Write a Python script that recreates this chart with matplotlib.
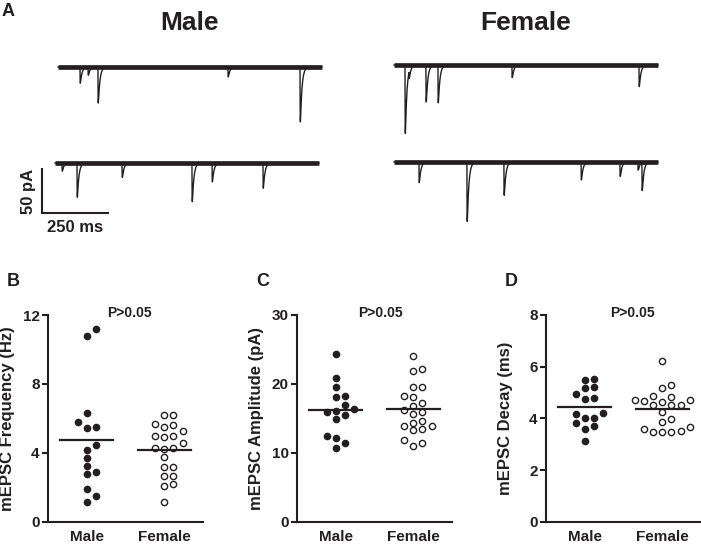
import numpy as np
import matplotlib
matplotlib.use("Agg")
import matplotlib.pyplot as plt

plt.rcParams['font.family'] = ['Liberation Sans', 'DejaVu Sans']
plt.rcParams['font.weight'] = 'bold'
plt.rcParams['axes.labelweight'] = 'bold'
INK = '#231f20'

# ---- panel A: example mEPSC traces, events as (time ms, amplitude pA) ----
trace_ms = 985
male_events_1 = [(82, 18), (112, 9), (149, 40), (634, 11), (903, 61)]
male_events_2 = [(26, 9), (82, 38), (250, 16), (511, 43), (586, 21), (776, 28)]
female_events_1 = [(41, 76), (56, 8), (119, 41), (164, 42), (440, 14), (914, 24)]
female_events_2 = [(93, 23), (272, 66), (410, 37), (698, 20), (843, 16),
                   (910, 9), (925, 31)]

# ---- panels B-D: one value per cell ----
groups = ['Male', 'Female']
freq_male = [11.19, 10.80, 6.29, 5.52, 5.42, 5.81, 4.47, 4.14, 3.72, 3.25,
             2.75, 2.89, 1.92, 1.51, 1.16]
freq_female = [6.19, 6.19, 5.67, 5.48, 5.60, 5.27, 4.99, 4.92, 4.99, 4.55,
               4.28, 4.20, 4.28, 3.74, 3.18, 3.18, 2.67, 2.67, 2.19, 2.07, 1.16]
amp_male = [24.34, 20.81, 19.51, 18.14, 18.24, 16.94, 16.31, 15.88, 15.49,
            16.11, 14.95, 12.44, 12.19, 11.47, 10.65]
amp_female = [24.05, 22.2, 21.83, 19.6, 19.6, 18.05, 18.24, 17.27, 16.84,
              16.21, 15.58, 15.88, 14.62, 13.94, 13.41, 13.31, 13.89, 14.37,
              11.86, 10.99, 11.47]
decay_male = [5.48, 5.51, 5.16, 5.21, 4.94, 4.79, 4.75, 4.16, 4.19, 4.00,
              4.00, 3.81, 3.70, 3.59, 3.12]
decay_female = [6.21, 5.30, 5.19, 4.85, 4.81, 4.70, 4.70, 4.62, 4.68, 4.50,
                4.50, 4.50, 4.23, 3.96, 3.86, 3.68, 3.60, 3.47, 3.47, 3.47, 3.51]

W, H = 701, 549
fig = plt.figure(figsize=(W / 100, H / 100), dpi=100)

# trace axes spans whole figure; 67 px = 250 ms, 45 px = 50 pA
MS_PX = 250 / 67
PA_PX = 50 / 45
axA = fig.add_axes([0, 0, 1, 1], zorder=0)
axA.set_xlim(0, W * MS_PX)
axA.set_ylim(-H * PA_PX, 0)
axA.axis('off')


def draw_trace(ax, events, x0, base, dur=trace_ms, tau=6.0, rise=0.5):
    t = np.arange(0, dur, 0.25)
    y = np.zeros_like(t)
    k = np.arange(0, 80, 0.05)
    peak = ((1 - np.exp(-k / rise)) * np.exp(-k / tau)).max()
    for t0, a in events:
        dt = np.clip(t - t0, 0, None)
        y -= a * (1 - np.exp(-dt / rise)) * np.exp(-dt / tau) / peak
    ax.fill_between(x0 + t, base - 2.6, base + 2.6, color=INK, lw=0)
    ax.plot(x0 + t, base + y, color=INK, lw=1.0)


draw_trace(axA, male_events_1, 58 * MS_PX, -67 * PA_PX)
draw_trace(axA, male_events_2, 55 * MS_PX, -163 * PA_PX)
draw_trace(axA, female_events_1, 394 * MS_PX, -65 * PA_PX)
draw_trace(axA, female_events_2, 394 * MS_PX, -162 * PA_PX)

# scale bar
sx, sy = 42 * MS_PX, -213 * PA_PX
axA.plot([sx, sx, sx + 250], [sy + 50, sy, sy], color=INK, lw=1.5,
         solid_capstyle='butt', solid_joinstyle='miter')
fig.text(28 / W, 1 - 191 / H, '50 pA', rotation=90, ha='center', va='center',
         fontsize=12, color=INK)
fig.text(75 / W, 1 - 227 / H, '250 ms', ha='center', va='center',
         fontsize=12, color=INK)
fig.text(190 / W, 1 - 23 / H, 'Male', ha='center', va='center',
         fontsize=19, color=INK)
fig.text(526 / W, 1 - 23 / H, 'Female', ha='center', va='center',
         fontsize=19, color=INK)


def swarm_x(ax, xc, vals, lane_px=9.2, sep_px=7.0):
    """offsets for a column scatter, lanes spaced lane_px apart"""
    vals = np.asarray(vals, float)
    ypx = ax.transData.transform(np.column_stack([np.full(len(vals), xc), vals]))[:, 1]
    x_per_px = 1.0 / (ax.transData.transform([[1, 0]])[0, 0] - ax.transData.transform([[0, 0]])[0, 0])
    lanes = np.zeros(len(vals))
    placed = []
    for i in np.argsort(vals):
        for k in [0, 1, -1, 2, -2, 3, -3]:
            if all(not (lk == k and abs(yp - ypx[i]) < sep_px) for lk, yp in placed):
                break
        placed.append((k, ypx[i]))
        lanes[i] = k
    return xc + lanes * lane_px * x_per_px


panels = [
    ('B', freq_male, freq_female, 'mEPSC Frequency (Hz)', 12, [0, 4, 8, 12], 48, 0.525),
    ('C', amp_male, amp_female, 'mEPSC Amplitude (pA)', 30, [0, 10, 20, 30], 297, 0.54),
    ('D', decay_male, decay_female, 'mEPSC Decay (ms)', 8, [0, 2, 4, 6, 8], 546, 0.555),
]
for letter, vm, vf, label, ymax, ticks, left, ptx in panels:
    ax = fig.add_axes([left / W, 27.3 / H, 155 / W, 206.7 / H])
    ax.set_xlim(0.5, 2.5)
    ax.set_ylim(0, ymax)
    ax.set_yticks(ticks)
    ax.set_xticks([1, 2])
    ax.set_xticklabels(groups)
    for s in ['top', 'right']:
        ax.spines[s].set_visible(False)
    for s in ['left', 'bottom']:
        ax.spines[s].set_linewidth(1.5)
        ax.spines[s].set_color(INK)
    ax.tick_params(axis='y', length=4.5, width=1.5, pad=1.5, labelsize=11,
                   colors=INK)
    ax.tick_params(axis='x', length=0, pad=6, labelsize=11, colors=INK)
    ax.patch.set_alpha(0)
    ax.set_ylabel(label, fontsize=12, color=INK)
    ax.yaxis.set_label_coords(-0.213, 0.5)

    ax.plot(swarm_x(ax, 1, vm), vm, 'o', ms=4.5, color=INK, mec=INK,
            clip_on=False, zorder=3)
    ax.plot(swarm_x(ax, 2, vf), vf, 'o', ms=4.5, mfc='white', mec=INK,
            mew=1.0, clip_on=False, zorder=3)
    for xc, v in [(1, vm), (2, vf)]:
        m = np.mean(v)
        ax.plot([xc - 0.34, xc + 0.34], [m, m], color=INK, lw=1.6, zorder=4)

    ax.text(ptx, 1.01, 'P>0.05', transform=ax.transAxes, ha='center',
            va='center', fontsize=10, color=INK)
    fig.text((left - 41) / W, 1 - 281.5 / H, letter, ha='left', va='center',
             fontsize=13, color=INK)

fig.text(2 / W, 1 - 11 / H, 'A', ha='left', va='center', fontsize=13, color=INK)

fig.savefig('out.png', dpi=100)
